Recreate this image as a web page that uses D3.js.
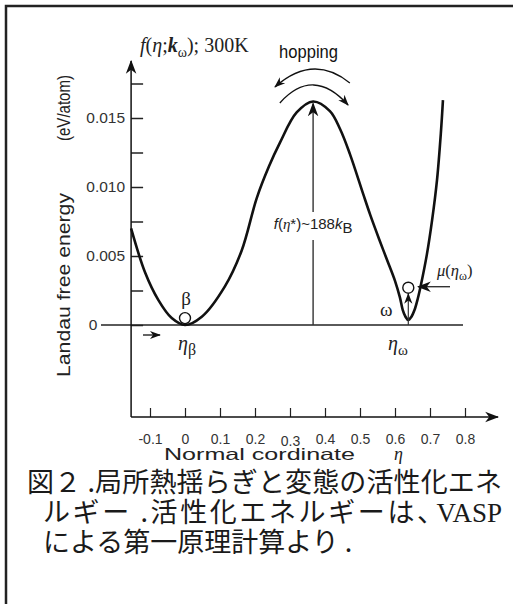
<!DOCTYPE html>
<html>
<head>
<meta charset="utf-8">
<script src="https://cdn.jsdelivr.net/npm/d3@7"></script>
<style>
  body { margin: 0; background: #fff; }
  svg { display: block; }
  .sans { font-family: "Liberation Sans", Arial, sans-serif; }
  .serif { font-family: "Liberation Serif", "Times New Roman", serif; }
  .jp { font-family: "Noto Sans CJK JP", sans-serif; }
</style>
</head>
<body>
<svg id="svg"></svg>
<script>
let width = 513, height = 604;

// landau free energy curve
let eta    = [-0.154, -0.114, -0.076, -0.038, 0, 0.048, 0.114, 0.162, 0.205, 0.24, 0.271, 0.319, 0.366, 0.414, 0.443, 0.471, 0.509, 0.529, 0.555, 0.576, 0.6, 0.614, 0.622, 0.63, 0.638, 0.647, 0.656, 0.665, 0.674, 0.691, 0.706, 0.72, 0.731, 0.737];
let energy = [0.0070, 0.0038, 0.0018, 0.0005, 0, 0.0006, 0.0028, 0.0054, 0.0092, 0.0115, 0.0132, 0.0154, 0.0162, 0.0155, 0.0142, 0.0124, 0.0095, 0.0080, 0.0062, 0.0048, 0.0032, 0.0020, 0.0011, 0.0006, 0.00036, 0.0006, 0.0011, 0.0019, 0.0029, 0.0051, 0.0076, 0.0105, 0.0139, 0.0163];

let xTicks = [-0.1, 0, 0.1, 0.2, 0.3, 0.4, 0.5, 0.6, 0.7, 0.8];
let xTickLabels = ["-0.1", "0", "0.1", "0.2", "0.3", "0.4", "0.5", "0.6", "0.7", "0.8"];
let yTicks = [0, 0.0025, 0.005, 0.0075, 0.010, 0.0125, 0.015, 0.0175];
let yTickLabels = {"0.005": "0.005", "0.01": "0.010", "0.015": "0.015"};

let etaBeta = 0, etaOmega = 0.638, etaStar = 0.366, fStar = 0.0162;
let muOmega = 0.0027;

let captionLines = ["図２ .局所熱揺らぎと変態の活性化エネ", "ルギー .活性化エネルギーは、", "による第一原理計算より ."];

let svg = d3.select("#svg").attr("width", width).attr("height", height);

let xScale = d3.scaleLinear().domain([0, 0.8]).range([185, 465]);
let yScale = d3.scaleLinear().domain([0, 0.015]).range([325, 118]);
let x0 = xScale(-0.154), yBase = 417;

// arrow heads
let defs = svg.append("defs");
function marker(id, size) {
    defs.append("marker").attr("id", id)
        .attr("viewBox", "0 -5 12 10").attr("refX", 11).attr("refY", 0)
        .attr("markerWidth", size).attr("markerHeight", size)
        .attr("markerUnits", "userSpaceOnUse")
        .attr("orient", "auto")
        .append("path").attr("d", "M0,-4.5L12,0L0,4.5L3.5,0Z").attr("fill", "#111");
}
marker("arr", 14);
marker("arrS", 11);

// frame
svg.append("path").attr("d", `M6,${height}V6H${width}`)
    .attr("fill", "none").attr("stroke", "#222").attr("stroke-width", 2.5);

// zero line
svg.append("line")
    .attr("x1", 101).attr("x2", 463)
    .attr("y1", yScale(0)).attr("y2", yScale(0))
    .attr("stroke", "#5a5a5a").attr("stroke-width", 2);

// y axis
let yAxis = svg.append("g").attr("transform", `translate(${x0},0)`)
    .call(d3.axisLeft(yScale).tickValues(yTicks).tickSizeInner(-12).tickSizeOuter(0).tickPadding(6)
        .tickFormat(d => yTickLabels[String(+d.toFixed(4))] || ""));
yAxis.select(".domain").remove();
yAxis.selectAll(".tick line").attr("stroke", "#222").attr("stroke-width", 1.5);
yAxis.selectAll(".tick text").attr("class", "sans").attr("font-size", 15.5).attr("fill", "#333");
svg.append("line").attr("x1", x0).attr("x2", x0).attr("y1", yBase).attr("y2", 61)
    .attr("stroke", "#111").attr("stroke-width", 1.5).attr("marker-end", "url(#arr)");
svg.append("text").attr("class", "sans").attr("x", 93).attr("y", yScale(0)).attr("dy", "0.35em")
    .attr("text-anchor", "middle").attr("font-size", 15.5).attr("fill", "#333").text("0");

// x axis
let xAxis = svg.append("g").attr("transform", `translate(0,${yBase})`)
    .call(d3.axisBottom(xScale).tickValues(xTicks).tickSizeInner(-9).tickSizeOuter(0).tickPadding(23)
        .tickFormat((d, i) => xTickLabels[i]));
xAxis.select(".domain").remove();
xAxis.selectAll(".tick line").attr("stroke", "#222").attr("stroke-width", 1.2);
xAxis.selectAll(".tick text").attr("class", "sans").attr("font-size", 14).attr("fill", "#333")
    .attr("dy", (d) => d === 0.3 ? "0.4em" : "0.25em");
svg.append("line").attr("x1", x0).attr("x2", 498).attr("y1", yBase).attr("y2", yBase)
    .attr("stroke", "#111").attr("stroke-width", 1.5).attr("marker-end", "url(#arr)");

// axis titles
svg.append("text").attr("class", "sans").attr("transform", "translate(70,377) rotate(-90)")
    .attr("font-size", 18).attr("fill", "#222").attr("textLength", 184).attr("lengthAdjust", "spacingAndGlyphs")
    .text("Landau free energy");
svg.append("text").attr("class", "sans").attr("transform", "translate(70,141) rotate(-90)")
    .attr("font-size", 18).attr("fill", "#222").attr("textLength", 66).attr("lengthAdjust", "spacingAndGlyphs")
    .text("(eV/atom)");
svg.append("text").attr("class", "sans").attr("x", 164).attr("y", 460)
    .attr("font-size", 16.5).attr("fill", "#222").attr("textLength", 191).attr("lengthAdjust", "spacingAndGlyphs")
    .text("Normal cordinate");
svg.append("text").attr("class", "serif").attr("x", 394).attr("y", 460)
    .attr("font-size", 18).attr("font-style", "italic").attr("fill", "#222").text("η");

// curve
let pts = eta.map((e, i) => [e, energy[i]]);
svg.append("path").datum(pts)
    .attr("d", d3.line().x(d => xScale(d[0])).y(d => yScale(d[1])).curve(d3.curveCatmullRom.alpha(0.5)))
    .attr("fill", "none").attr("stroke", "#111").attr("stroke-width", 2.6).attr("stroke-linejoin", "round");

// barrier line with label break
let xs = xScale(etaStar);
svg.append("line").attr("x1", xs).attr("x2", xs).attr("y1", 212).attr("y2", yScale(fStar) + 2)
    .attr("stroke", "#333").attr("stroke-width", 1.4).attr("marker-end", "url(#arr)");
svg.append("line").attr("x1", xs).attr("x2", xs).attr("y1", 240).attr("y2", yScale(0))
    .attr("stroke", "#333").attr("stroke-width", 1.4);
let fl = svg.append("text").attr("class", "sans").attr("x", xs).attr("y", 229)
    .attr("text-anchor", "middle").attr("font-size", 15).attr("fill", "#222");
fl.append("tspan").attr("font-style", "italic").text("f");
fl.append("tspan").text("(");
fl.append("tspan").attr("font-style", "italic").attr("class", "serif").text("η");
fl.append("tspan").text("*)~188");
fl.append("tspan").attr("font-style", "italic").text("k");
fl.append("tspan").attr("dy", 4).attr("font-size", 15).text("B");

// hopping arrows
let arcUp = d3.path();
arcUp.moveTo(xScale(0.471), yScale(0.01754));
arcUp.quadraticCurveTo(xs, yScale(0.0197), xScale(0.257), yScale(0.01725));
svg.append("path").attr("d", arcUp.toString()).attr("fill", "none")
    .attr("stroke", "#111").attr("stroke-width", 1.3).attr("marker-end", "url(#arrS)");
let arcDn = d3.path();
arcDn.moveTo(xScale(0.271), yScale(0.01609));
arcDn.quadraticCurveTo(xs, yScale(0.01877), xScale(0.466), yScale(0.01594));
svg.append("path").attr("d", arcDn.toString()).attr("fill", "none")
    .attr("stroke", "#111").attr("stroke-width", 1.3).attr("marker-end", "url(#arrS)");
svg.append("text").attr("class", "sans").attr("x", 279).attr("y", 58)
    .attr("font-size", 19).attr("fill", "#111").attr("textLength", 59).attr("lengthAdjust", "spacingAndGlyphs")
    .text("hopping");

// top formula
let tf = svg.append("text").attr("class", "serif").attr("x", 140).attr("y", 52)
    .attr("font-size", 20).attr("fill", "#222");
tf.append("tspan").attr("font-style", "italic").text("f");
tf.append("tspan").text("(");
tf.append("tspan").attr("font-style", "italic").text("η");
tf.append("tspan").text(";");
tf.append("tspan").attr("font-style", "italic").attr("font-weight", "bold").text("k");
tf.append("tspan").attr("dy", 5).attr("font-size", 14).text("ω");
tf.append("tspan").attr("dy", -5).text("); 300K");

// beta state
svg.append("circle").attr("cx", xScale(etaBeta)).attr("cy", yScale(0.0005)).attr("r", 5.5)
    .attr("fill", "#fff").attr("stroke", "#111").attr("stroke-width", 1.4);
svg.append("text").attr("class", "serif").attr("x", xScale(etaBeta) + 1).attr("y", 305)
    .attr("text-anchor", "middle").attr("font-size", 19).attr("fill", "#222").text("β");
let eb = svg.append("text").attr("class", "serif").attr("x", 178).attr("y", 350)
    .attr("font-size", 20).attr("fill", "#222");
eb.append("tspan").attr("font-style", "italic").text("η");
eb.append("tspan").attr("dy", 5).attr("font-size", 16).text("β");
svg.append("line").attr("x1", 143).attr("x2", 160).attr("y1", 335).attr("y2", 335)
    .attr("stroke", "#111").attr("stroke-width", 1.3).attr("marker-end", "url(#arrS)");

// omega state
let xo = xScale(etaOmega);
svg.append("line").attr("x1", xo).attr("x2", xo).attr("y1", yScale(0)).attr("y2", yScale(muOmega) + 6)
    .attr("stroke", "#333").attr("stroke-width", 1.2).attr("marker-end", "url(#arrS)");
svg.append("circle").attr("cx", xo).attr("cy", yScale(muOmega)).attr("r", 5.5)
    .attr("fill", "#fff").attr("stroke", "#111").attr("stroke-width", 1.4);
svg.append("text").attr("class", "serif").attr("x", 380).attr("y", 316)
    .attr("font-size", 19).attr("fill", "#222").text("ω");
let eo = svg.append("text").attr("class", "serif").attr("x", 388).attr("y", 350)
    .attr("font-size", 20).attr("fill", "#222");
eo.append("tspan").attr("font-style", "italic").text("η");
eo.append("tspan").attr("dy", 5).attr("font-size", 15).text("ω");
svg.append("line").attr("x1", 450).attr("x2", 418).attr("y1", yScale(muOmega) - 1).attr("y2", yScale(muOmega) - 1)
    .attr("stroke", "#111").attr("stroke-width", 1.2).attr("marker-end", "url(#arr)");
let mu = svg.append("text").attr("class", "serif").attr("x", 437).attr("y", 276)
    .attr("font-size", 16.5).attr("fill", "#222");
mu.append("tspan").attr("font-style", "italic").text("μ");
mu.append("tspan").text("(");
mu.append("tspan").attr("font-style", "italic").text("η");
mu.append("tspan").attr("dy", 4).attr("font-size", 12).text("ω");
mu.append("tspan").attr("dy", -4).text(")");

// caption
let cap = svg.append("g").attr("fill", "#1a1a1a");
cap.append("text").attr("class", "jp").attr("x", 27).attr("y", 492).attr("font-size", 27)
    .attr("textLength", 475).attr("lengthAdjust", "spacing").text(captionLines[0]);
cap.append("text").attr("class", "jp").attr("x", 43).attr("y", 522).attr("font-size", 27)
    .attr("textLength", 401).attr("lengthAdjust", "spacing").text(captionLines[1]);
cap.append("text").attr("class", "serif").attr("x", 502).attr("y", 522).attr("font-size", 27)
    .attr("text-anchor", "end").text("VASP");
cap.append("text").attr("class", "jp").attr("x", 43).attr("y", 552).attr("font-size", 27)
    .text(captionLines[2]);
</script>
</body>
</html>
